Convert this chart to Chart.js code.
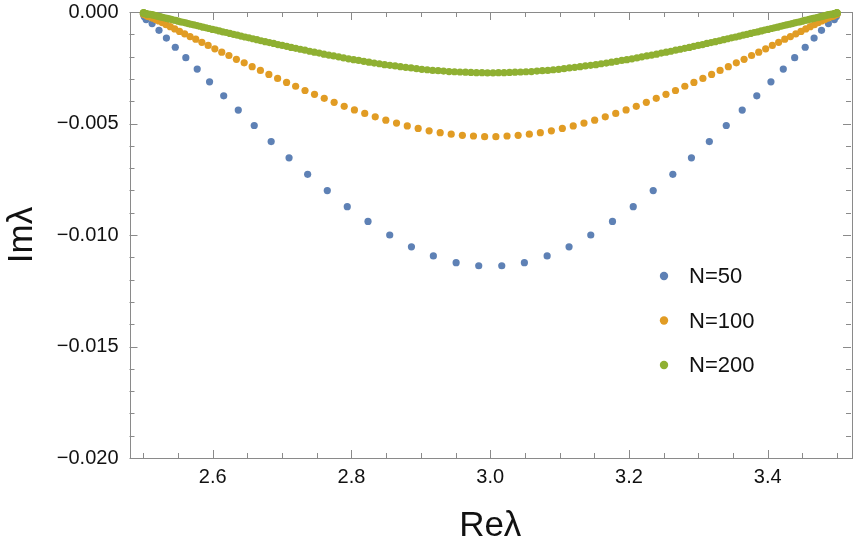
<!DOCTYPE html>
<html>
<head>
<meta charset="utf-8">
<script src="https://cdn.jsdelivr.net/npm/chart.js@4.4.1/dist/chart.umd.min.js"></script>
<style>
  html, body { margin: 0; padding: 0; background: #fff; }
  #wrap { width: 855px; height: 546px; }
</style>
</head>
<body>
<div id="wrap"><canvas id="spectrum" width="855" height="546"></canvas></div>
<script>
// eigenvalues (Re on x, Im on y)
const re50 = [2.5001, 2.5012, 2.5040, 2.5126, 2.5225, 2.5332, 2.5460, 2.5612, 2.5776, 2.5954, 2.6158, 2.6368,
  2.6598, 2.6842, 2.7100, 2.7368, 2.7651, 2.7939, 2.8238, 2.8551, 2.8864, 2.9180, 2.9508, 2.9834,
  3.0166, 3.0492, 3.0820, 3.1136, 3.1449, 3.1762, 3.2061, 3.2349, 3.2632, 3.2900, 3.3158, 3.3402,
  3.3632, 3.3842, 3.4046, 3.4224, 3.4388, 3.4540, 3.4668, 3.4775, 3.4874, 3.4960, 3.4988, 3.4999];
const im50 = [-0.00010, -0.00020, -0.00034, -0.00052, -0.00082, -0.00117, -0.00158, -0.00205, -0.00256, -0.00313,
  -0.00376, -0.00440, -0.00509, -0.00581, -0.00654, -0.00728, -0.00801, -0.00873, -0.00939, -0.01000,
  -0.01053, -0.01094, -0.01124, -0.01138,
  -0.01138, -0.01124, -0.01094, -0.01053, -0.01000, -0.00939, -0.00873, -0.00801, -0.00728, -0.00654,
  -0.00581, -0.00509, -0.00440, -0.00376, -0.00313, -0.00256, -0.00205, -0.00158, -0.00117, -0.00082,
  -0.00052, -0.00034, -0.00020, -0.00010];

const re100 = [2.5000, 2.5004, 2.5013, 2.5028, 2.5048, 2.5072, 2.5104, 2.5139, 2.5179, 2.5224, 2.5274, 2.5328,
  2.5388, 2.5452, 2.5521, 2.5595, 2.5673, 2.5755, 2.5843, 2.5934, 2.6030, 2.6130, 2.6233, 2.6341,
  2.6453, 2.6568, 2.6687, 2.6809, 2.6935, 2.7064, 2.7195, 2.7330, 2.7467, 2.7607, 2.7750, 2.7895,
  2.8042, 2.8191, 2.8342, 2.8495, 2.8649, 2.8804, 2.8961, 2.9119, 2.9278, 2.9437, 2.9598, 2.9758, 2.9919,
  3.0081, 3.0242, 3.0402, 3.0563, 3.0722, 3.0881, 3.1039, 3.1196, 3.1351, 3.1505, 3.1658, 3.1809,
  3.1958, 3.2105, 3.2250, 3.2393, 3.2533, 3.2670, 3.2805, 3.2936, 3.3065, 3.3191, 3.3313, 3.3432,
  3.3547, 3.3659, 3.3767, 3.3870, 3.3970, 3.4066, 3.4157, 3.4245, 3.4327, 3.4405, 3.4479, 3.4548,
  3.4612, 3.4672, 3.4726, 3.4776, 3.4821, 3.4861, 3.4896, 3.4928, 3.4952, 3.4972, 3.4987, 3.4996, 3.5000];
const im100 = [-0.00008, -0.00009, -0.00011, -0.00014, -0.00017, -0.00020, -0.00023, -0.00028, -0.00034, -0.00040,
  -0.00048, -0.00057, -0.00066, -0.00076, -0.00087, -0.00098, -0.00110, -0.00122, -0.00136, -0.00150,
  -0.00165, -0.00180, -0.00195, -0.00212, -0.00228, -0.00245, -0.00262, -0.00280, -0.00298, -0.00316,
  -0.00333, -0.00352, -0.00369, -0.00387, -0.00405, -0.00423, -0.00439, -0.00455, -0.00470, -0.00485,
  -0.00498, -0.00511, -0.00522, -0.00533, -0.00541, -0.00548, -0.00553, -0.00556, -0.00559,
  -0.00559, -0.00556, -0.00553, -0.00548, -0.00541, -0.00533, -0.00522, -0.00511, -0.00498, -0.00485,
  -0.00470, -0.00455, -0.00439, -0.00423, -0.00405, -0.00387, -0.00369, -0.00352, -0.00333, -0.00316,
  -0.00298, -0.00280, -0.00262, -0.00245, -0.00228, -0.00212, -0.00195, -0.00180, -0.00165, -0.00150,
  -0.00136, -0.00122, -0.00110, -0.00098, -0.00087, -0.00076, -0.00066, -0.00057, -0.00048, -0.00040,
  -0.00034, -0.00028, -0.00023, -0.00020, -0.00017, -0.00014, -0.00011, -0.00009, -0.00008];

const re200 = [2.5000, 2.5001, 2.5004, 2.5007, 2.5012, 2.5019, 2.5026, 2.5035, 2.5045, 2.5056,
  2.5069, 2.5083, 2.5098, 2.5114, 2.5131, 2.5150, 2.5170, 2.5191, 2.5213, 2.5237,
  2.5262, 2.5287, 2.5315, 2.5343, 2.5372, 2.5403, 2.5435, 2.5468, 2.5502, 2.5537,
  2.5573, 2.5611, 2.5649, 2.5689, 2.5730, 2.5772, 2.5815, 2.5859, 2.5904, 2.5949,
  2.5997, 2.6045, 2.6094, 2.6144, 2.6195, 2.6247, 2.6300, 2.6354, 2.6408, 2.6465,
  2.6521, 2.6579, 2.6637, 2.6696, 2.6756, 2.6816, 2.6878, 2.6940, 2.7003, 2.7067,
  2.7131, 2.7197, 2.7263, 2.7329, 2.7397, 2.7465, 2.7534, 2.7603, 2.7673, 2.7743,
  2.7815, 2.7886, 2.7958, 2.8031, 2.8104, 2.8178, 2.8252, 2.8327, 2.8402, 2.8477,
  2.8553, 2.8629, 2.8705, 2.8782, 2.8859, 2.8937, 2.9014, 2.9092, 2.9170, 2.9249,
  2.9327, 2.9406, 2.9485, 2.9564, 2.9643, 2.9722, 2.9801, 2.9881, 2.9960,
  3.0040, 3.0119, 3.0199, 3.0278, 3.0357, 3.0436, 3.0515, 3.0594, 3.0673, 3.0751,
  3.0830, 3.0908, 3.0986, 3.1063, 3.1141, 3.1218, 3.1295, 3.1371, 3.1447, 3.1523,
  3.1598, 3.1673, 3.1748, 3.1822, 3.1896, 3.1969, 3.2042, 3.2114, 3.2185, 3.2257,
  3.2327, 3.2397, 3.2466, 3.2535, 3.2603, 3.2671, 3.2737, 3.2803, 3.2869, 3.2933,
  3.2997, 3.3060, 3.3122, 3.3184, 3.3244, 3.3304, 3.3363, 3.3421, 3.3479, 3.3535,
  3.3592, 3.3646, 3.3700, 3.3753, 3.3805, 3.3856, 3.3906, 3.3955, 3.4003, 3.4051,
  3.4096, 3.4141, 3.4185, 3.4228, 3.4270, 3.4311, 3.4351, 3.4389, 3.4427, 3.4463,
  3.4498, 3.4532, 3.4565, 3.4597, 3.4628, 3.4657, 3.4685, 3.4713, 3.4738, 3.4763,
  3.4787, 3.4809, 3.4830, 3.4850, 3.4869, 3.4886, 3.4902, 3.4917, 3.4931, 3.4944,
  3.4955, 3.4965, 3.4974, 3.4981, 3.4988, 3.4993, 3.4996, 3.4999, 3.5000];
const im200 = [-0.00004, -0.00004, -0.00004, -0.00005, -0.00005, -0.00006, -0.00007, -0.00007, -0.00008, -0.00009,
  -0.00010, -0.00010, -0.00011, -0.00012, -0.00013, -0.00014, -0.00016, -0.00017, -0.00019, -0.00021,
  -0.00023, -0.00025, -0.00027, -0.00029, -0.00031, -0.00033, -0.00036, -0.00038, -0.00041, -0.00044,
  -0.00046, -0.00049, -0.00052, -0.00055, -0.00058, -0.00061, -0.00064, -0.00068, -0.00071, -0.00074,
  -0.00078, -0.00081, -0.00085, -0.00089, -0.00092, -0.00096, -0.00100, -0.00104, -0.00108, -0.00112,
  -0.00116, -0.00120, -0.00124, -0.00129, -0.00133, -0.00137, -0.00141, -0.00146, -0.00150, -0.00154,
  -0.00159, -0.00163, -0.00167, -0.00171, -0.00176, -0.00180, -0.00184, -0.00189, -0.00193, -0.00197,
  -0.00201, -0.00206, -0.00210, -0.00214, -0.00217, -0.00221, -0.00225, -0.00229, -0.00232, -0.00236,
  -0.00239, -0.00242, -0.00245, -0.00248, -0.00251, -0.00254, -0.00257, -0.00259, -0.00262, -0.00263,
  -0.00265, -0.00267, -0.00268, -0.00269, -0.00270, -0.00271, -0.00272, -0.00272, -0.00273,
  -0.00273, -0.00272, -0.00272, -0.00271, -0.00270, -0.00269, -0.00268, -0.00267, -0.00265, -0.00263,
  -0.00262, -0.00259, -0.00257, -0.00254, -0.00251, -0.00248, -0.00245, -0.00242, -0.00239, -0.00236,
  -0.00232, -0.00229, -0.00225, -0.00221, -0.00217, -0.00214, -0.00210, -0.00206, -0.00201, -0.00197,
  -0.00193, -0.00189, -0.00184, -0.00180, -0.00176, -0.00171, -0.00167, -0.00163, -0.00159, -0.00154,
  -0.00150, -0.00146, -0.00141, -0.00137, -0.00133, -0.00129, -0.00124, -0.00120, -0.00116, -0.00112,
  -0.00108, -0.00104, -0.00100, -0.00096, -0.00092, -0.00089, -0.00085, -0.00081, -0.00078, -0.00074,
  -0.00071, -0.00068, -0.00064, -0.00061, -0.00058, -0.00055, -0.00052, -0.00049, -0.00046, -0.00044,
  -0.00041, -0.00038, -0.00036, -0.00033, -0.00031, -0.00029, -0.00027, -0.00025, -0.00023, -0.00021,
  -0.00019, -0.00017, -0.00016, -0.00014, -0.00013, -0.00012, -0.00011, -0.00010, -0.00010, -0.00009,
  -0.00008, -0.00007, -0.00007, -0.00006, -0.00005, -0.00005, -0.00004, -0.00004, -0.00004];

const seriesNames = ['N=50', 'N=100', 'N=200'];
const xTicks = [2.6, 2.8, 3.0, 3.2, 3.4];
const yTicks = [-0.020, -0.015, -0.010, -0.005, 0.000];

const COLORS = ['#5e81b5', '#e19c24', '#8fb032'];
const FONT = '"Liberation Sans", Arial, Helvetica, sans-serif';
const FRAME = '#8a8a8a';

function toPoints(xs, ys) {
  return xs.map((x, i) => ({ x: x, y: ys[i] }));
}

// box frame with inward ticks on all four sides (Mathematica style)
const framePlugin = {
  id: 'frame',
  beforeDatasetsDraw(chart) {
    const { ctx, chartArea: a, scales } = chart;
    const xs = scales.x, ys = scales.y;
    ctx.save();
    ctx.strokeStyle = FRAME;
    ctx.lineWidth = 1;
    ctx.beginPath();
    // x ticks every 0.05, long ones on the labelled values
    for (let k = 0; k <= 20; k++) {
      const v = 2.5 + k * 0.05;
      const major = xTicks.some(t => Math.abs(t - v) < 1e-6);
      const len = major ? 8 : 5;
      const px = Math.round(xs.getPixelForValue(v)) + 0.5;
      ctx.moveTo(px, a.bottom); ctx.lineTo(px, a.bottom - len);
      ctx.moveTo(px, a.top); ctx.lineTo(px, a.top + len);
    }
    // y ticks every 0.001
    for (let k = 0; k <= 20; k++) {
      const v = -k * 0.001;
      const major = k % 5 === 0;
      const len = major ? 8 : 5;
      const py = Math.round(ys.getPixelForValue(v)) + 0.5;
      ctx.moveTo(a.left, py); ctx.lineTo(a.left + len, py);
      ctx.moveTo(a.right, py); ctx.lineTo(a.right - len, py);
    }
    ctx.stroke();
    ctx.strokeRect(Math.round(a.left) + 0.5, Math.round(a.top) + 0.5,
      Math.round(a.right - a.left), Math.round(a.bottom - a.top));
    ctx.restore();
  }
};

// axis titles and the inset legend
const labelsPlugin = {
  id: 'labels',
  afterDraw(chart) {
    const { ctx, chartArea: a } = chart;
    ctx.save();
    ctx.fillStyle = '#111';
    ctx.font = '35px ' + FONT;
    ctx.textAlign = 'center';
    ctx.textBaseline = 'alphabetic';
    ctx.fillText('Reλ', (a.left + a.right) / 2, 536);
    ctx.translate(31.5, (a.top + a.bottom) / 2);
    ctx.rotate(-Math.PI / 2);
    ctx.fillText('Imλ', 0, 0);
    ctx.restore();

    ctx.save();
    ctx.font = '22px ' + FONT;
    ctx.textAlign = 'left';
    ctx.textBaseline = 'middle';
    chart.data.datasets.forEach((ds, i) => {
      const y = 276 + i * 44.5;
      ctx.fillStyle = ds.backgroundColor;
      ctx.beginPath();
      ctx.arc(664, y, 4.2, 0, Math.PI * 2);
      ctx.fill();
      ctx.fillStyle = '#111';
      ctx.fillText(ds.label, 689, y + 1);
    });
    ctx.restore();
  }
};

const series = [toPoints(re50, im50), toPoints(re100, im100), toPoints(re200, im200)];

new Chart(document.getElementById('spectrum'), {
  type: 'scatter',
  data: {
    datasets: series.map((pts, i) => ({
      label: seriesNames[i],
      data: pts,
      backgroundColor: COLORS[i],
      borderWidth: 0,
      pointRadius: 3.6,
      pointHoverRadius: 3.6,
      pointBorderWidth: 0,
      clip: false,
      order: 3 - i
    }))
  },
  options: {
    responsive: false,
    devicePixelRatio: 1,
    animation: false,
    layout: { autoPadding: false, padding: { top: 12, right: 4, left: 0, bottom: 0 } },
    plugins: {
      legend: { display: false },
      tooltip: { enabled: false }
    },
    scales: {
      x: {
        type: 'linear',
        min: 2.48,
        max: 3.52,
        border: { display: false },
        grid: { display: false, drawTicks: false },
        afterBuildTicks: s => { s.ticks = xTicks.map(v => ({ value: v })); },
        afterFit: s => { s.height = 88; s.paddingLeft = 0; s.paddingRight = 0; },
        ticks: {
          autoSkip: false,
          maxRotation: 0,
          padding: 7,
          color: '#111',
          font: { family: FONT, size: 20 },
          callback: v => v.toFixed(1)
        }
      },
      y: {
        type: 'linear',
        min: -0.020,
        max: 0.000,
        border: { display: false },
        grid: { display: false, drawTicks: false },
        afterBuildTicks: s => { s.ticks = yTicks.map(v => ({ value: v })); },
        afterFit: s => { s.width = 129.5; s.paddingTop = 0; s.paddingBottom = 0; },
        ticks: {
          autoSkip: false,
          padding: 11,
          color: '#111',
          font: { family: FONT, size: 20 },
          callback: v => (v < 0 ? '\u2212' : '') + Math.abs(v).toFixed(3)
        }
      }
    }
  },
  plugins: [framePlugin, labelsPlugin]
});
</script>
</body>
</html>
